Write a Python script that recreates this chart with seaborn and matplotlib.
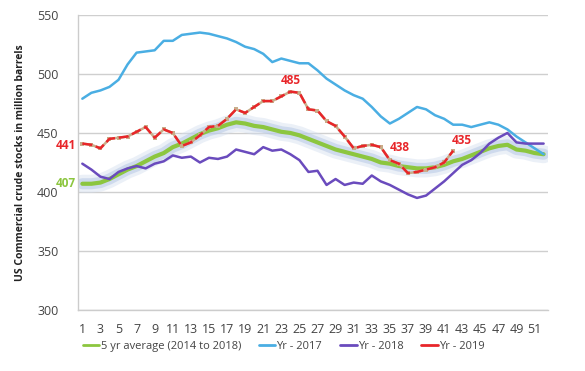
import numpy as np
import pandas as pd
import matplotlib
matplotlib.use("Agg")
import matplotlib.pyplot as plt
import matplotlib.patheffects as pe
import seaborn as sns

# weekly US commercial crude stocks (million barrels)
weeks = list(range(1, 53))

avg_5yr = [407, 407, 408, 411, 415, 419, 422, 426, 430, 433, 438, 441, 445, 449, 452, 454, 457,
           459, 458, 456, 455, 453, 451, 450, 448, 445, 442, 439, 436, 434, 432, 430, 428, 425,
           424, 422, 421, 420, 420, 421, 423, 426, 428, 431, 434, 437, 439, 440, 436, 435, 433, 432]

yr_2017 = [479, 484, 486, 489, 495, 508, 518, 519, 520, 528, 528, 533, 534, 535, 534, 532, 530,
           527, 523, 521, 517, 510, 513, 511, 509, 509, 503, 496, 491, 486, 482, 479, 472, 464,
           458, 462, 467, 472, 470, 465, 462, 457, 457, 455, 457, 459, 457, 453, 447, 442, 437, 432]

yr_2018 = [424, 419, 413, 411, 417, 420, 422, 420, 424, 426, 431, 429, 430, 425, 429, 428, 430,
           436, 434, 432, 438, 435, 436, 432, 427, 417, 418, 406, 411, 406, 408, 407, 414, 409,
           406, 402, 398, 395, 397, 403, 409, 416, 423, 427, 433, 441, 446, 450, 442, 441, 441, 441]

yr_2019 = [441, 440, 437, 445, 446, 447, 451, 455, 446, 453, 450, 439, 442, 448, 455, 456, 462,
           470, 467, 472, 477, 477, 481, 485, 484, 470, 469, 460, 456, 447, 437, 439, 440, 438,
           427, 424, 416, 417, 419, 421, 425, 435]

y_ticks = [300, 350, 400, 450, 500, 550]

sns.set_style("white")
plt.rcParams["font.family"] = ["Open Sans", "DejaVu Sans"]

fig = plt.figure(figsize=(5.85, 3.71), dpi=100)
ax = fig.add_axes([0.133, 0.164, 0.804, 0.796])

green = "#8cc63f"
blue = "#4aaee3"
purple = "#6a4bbd"
red = "#e8262a"

# 5 yr average with soft blue glow
sns.lineplot(x=weeks, y=avg_5yr, ax=ax, color=green, linewidth=3, zorder=2,
             label="5 yr average (2014 to 2018)")
ax.lines[-1].set_path_effects([
    pe.Stroke(linewidth=13, foreground="#d3deef", alpha=0.45),
    pe.Stroke(linewidth=8, foreground="#b7c8e6", alpha=0.55),
    pe.Normal()])

sns.lineplot(x=weeks, y=yr_2017, ax=ax, color=blue, linewidth=1.8, zorder=3, label="Yr - 2017")
sns.lineplot(x=weeks, y=yr_2018, ax=ax, color=purple, linewidth=1.8, zorder=3, label="Yr - 2018")

# 2019: tan underline with red dashes on top
w19 = weeks[:len(yr_2019)]
sns.lineplot(x=w19, y=yr_2019, ax=ax, color="#c9ad8a", linewidth=1.8, zorder=4,
             marker="s", markersize=2.5, markeredgewidth=0, legend=False)
sns.lineplot(x=w19, y=yr_2019, ax=ax, color=red, linewidth=1.8, zorder=5,
             dashes=False, label="Yr - 2019")
ax.lines[-1].set_linestyle((0, (4, 1.5)))

# data labels
lab_kw = dict(fontsize=8.5, fontweight="bold", color=red)
ax.text(0.3, yr_2019[0] - 2, str(yr_2019[0]), ha="right", va="center", **lab_kw)
ax.text(0.3, avg_5yr[0], str(avg_5yr[0]), ha="right", va="center",
        fontsize=8.5, fontweight="bold", color=green)
ax.text(24, yr_2019[23] + 4, str(yr_2019[23]), ha="center", va="bottom", **lab_kw)
ax.text(35, yr_2019[33], str(yr_2019[33]), ha="left", va="center", **lab_kw)
ax.text(43, yr_2019[41] + 3, str(yr_2019[41]), ha="center", va="bottom", **lab_kw)

ax.set_xlim(0.5, 52.5)
ax.set_ylim(300, 550)
ax.set_yticks(y_ticks)
ax.set_xticks(weeks, minor=True)
ax.set_xticks(weeks[::2])
ax.set_xticklabels([str(w) for w in weeks[::2]])
ax.tick_params(axis="x", which="both", length=4, color="#cccccc", direction="out",
               labelsize=9, labelcolor="#444444", pad=5)
ax.tick_params(axis="y", length=0, labelsize=9, labelcolor="#444444", pad=14)
ax.grid(axis="y", color="#cfcfcf", linewidth=1)
ax.set_axisbelow(True)
for s in ["top", "right"]:
    ax.spines[s].set_visible(False)
for s in ["left", "bottom"]:
    ax.spines[s].set_color("#cccccc")
    ax.spines[s].set_linewidth(1)

ax.set_xlabel("")
ax.set_ylabel("US Commercial crude stocks in million barrels", fontsize=7.5,
              fontweight="bold", color="#222222", labelpad=8)

leg = ax.legend(loc="center", bbox_to_anchor=(0.485, 0.065), bbox_transform=fig.transFigure,
                ncol=4, frameon=False, fontsize=8, handlelength=1.5, handletextpad=0.1,
                columnspacing=1.6, labelcolor="#444444")
for h in leg.get_lines():
    h.set_path_effects([pe.Normal()])
    h.set_linestyle("-")
    h.set_linewidth(2)

fig.savefig("out.png", dpi=100)
